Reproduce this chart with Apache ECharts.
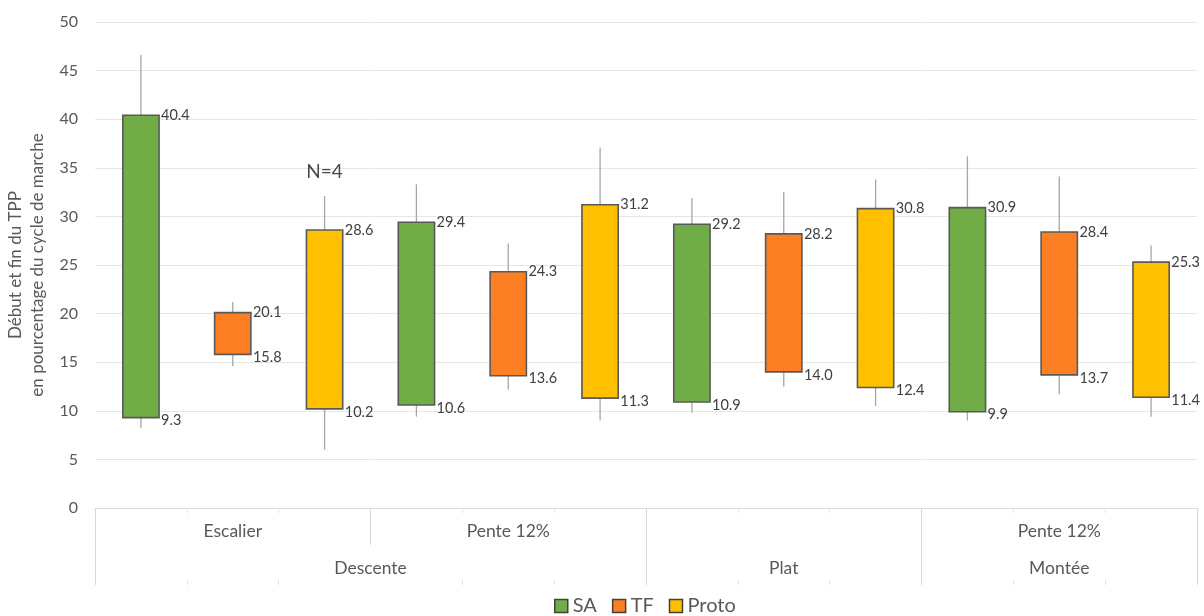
<!DOCTYPE html>
<html>
<head>
<meta charset="utf-8">
<script src="https://cdn.jsdelivr.net/npm/echarts@6/dist/echarts.min.js"></script>
<style>
  html, body { margin: 0; padding: 0; background: #fff; }
  #chart { width: 1204px; height: 616px; }
</style>
</head>
<body>
<div id="chart"></div>
<script>
// ---- Data ----
const seriesNames = ['SA', 'TF', 'Proto'];
const subLabels = ['Escalier', 'Pente 12%', '', 'Pente 12%'];
const mainLabels = ['Descente', 'Plat', 'Montée'];
const yTicks = [0, 5, 10, 15, 20, 25, 30, 35, 40, 45, 50];

const saStart = [9.3, 10.6, 10.9, 9.9];
const saEnd   = [40.4, 29.4, 29.2, 30.9];
const saLow   = [8.2, 9.4, 9.8, 9.0];
const saHigh  = [46.6, 33.3, 31.9, 36.2];

const tfStart = [15.8, 13.6, 14.0, 13.7];
const tfEnd   = [20.1, 24.3, 28.2, 28.4];
const tfLow   = [14.6, 12.2, 12.5, 11.7];
const tfHigh  = [21.2, 27.2, 32.5, 34.1];

const protoStart = [10.2, 11.3, 12.4, 11.4];
const protoEnd   = [28.6, 31.2, 30.8, 25.3];
const protoLow   = [6.0, 9.0, 10.5, 9.4];
const protoHigh  = [32.1, 37.1, 33.8, 27.0];

const annotationText = 'N=4';
const annotationSlot = 2;
const annotationValue = 34.6;

// ---- Build ----
const colors = ['#70ad47', '#fd7f23', '#ffc000'];
const slots = [];
for (let i = 0; i < 12; i++) slots.push(String(i));

function buildData(k, st, en, lo, hi) {
  return st.map((s, j) => [j * 3 + k, s, en[j], lo[j], hi[j]]);
}
const allData = [
  buildData(0, saStart, saEnd, saLow, saHigh),
  buildData(1, tfStart, tfEnd, tfLow, tfHigh),
  buildData(2, protoStart, protoEnd, protoLow, protoHigh)
];

const FONT = 'Lato, "Open Sans", sans-serif';

function makeRender(color) {
  return function (params, api) {
    const x = api.value(0);
    const s = api.value(1), e = api.value(2), lo = api.value(3), hi = api.value(4);
    const pTop = api.coord([x, e]);
    const pBot = api.coord([x, s]);
    const wTop = api.coord([x, hi]);
    const wBot = api.coord([x, lo]);
    const bw = api.size([1, 0])[0] * 0.395;
    const cx = pTop[0];
    return {
      type: 'group',
      children: [
        { type: 'line', shape: { x1: cx, y1: wTop[1], x2: cx, y2: wBot[1] },
          style: { stroke: '#a6a6a6', lineWidth: 1.3 } },
        { type: 'rect', shape: { x: cx - bw / 2, y: pTop[1], width: bw, height: pBot[1] - pTop[1] },
          style: { fill: color, stroke: '#595959', lineWidth: 1.6 } },
        { type: 'text', x: cx + bw / 2 + 2, y: pTop[1],
          style: { text: e.toFixed(1), fill: '#404040', font: '14.5px ' + FONT, align: 'left', verticalAlign: 'middle' } },
        { type: 'text', x: cx + bw / 2 + 2, y: pBot[1] + 3,
          style: { text: s.toFixed(1), fill: '#404040', font: '14.5px ' + FONT, align: 'left', verticalAlign: 'middle' } }
      ]
    };
  };
}

const series = seriesNames.map((name, k) => ({
  name: name,
  type: 'custom',
  xAxisIndex: 0,
  yAxisIndex: 0,
  renderItem: makeRender(colors[k]),
  itemStyle: { color: colors[k], borderColor: '#404040', borderWidth: 1 },
  encode: { x: 0, y: [1, 2, 3, 4] },
  data: allData[k],
  z: 3
}));

series.push({
  name: 'annotation',
  type: 'scatter',
  symbolSize: 0,
  data: [[String(annotationSlot), annotationValue]],
  label: { show: true, position: 'inside', formatter: annotationText, color: '#1a1a1a', fontSize: 19, fontFamily: FONT },
  silent: true,
  z: 4
});

const subPos = [1.5, 4.5, 7.5, 10.5];
const mainPos = [3, 7.5, 10.5];

const chart = echarts.init(document.getElementById('chart'));
chart.setOption({
  animation: false,
  backgroundColor: '#ffffff',
  grid: { left: 95, right: 7, top: 22, bottom: 108, containLabel: false, outerBoundsMode: 'none' },
  legend: {
    top: 591,
    left: 549,
    data: seriesNames.map((n, k) => ({ name: n, itemStyle: { color: colors[k], borderColor: '#404040', borderWidth: 1.5 } })),
    icon: 'rect',
    itemWidth: 13,
    itemHeight: 13,
    itemGap: 15,
    textStyle: { color: '#595959', fontSize: 20, fontFamily: FONT }
  },
  xAxis: [
    {
      type: 'category',
      data: slots,
      position: 'bottom',
      axisLine: { show: true, lineStyle: { color: '#d9d9d9', width: 1 } },
      axisTick: { show: true, length: 5, lineStyle: { color: '#e3e3e3' } },
      axisLabel: { show: false },
      splitLine: { show: false }
    },
    {
      type: 'value', min: 0, max: 12, position: 'bottom', offset: 0,
      axisLine: { show: false },
      axisTick: { show: true, customValues: [0, 3, 6, 9, 12], length: 37, lineStyle: { color: '#d9d9d9' } },
      axisLabel: {
        show: true, customValues: subPos, margin: 14,
        formatter: v => subLabels[subPos.indexOf(v)] || '',
        color: '#595959', fontSize: 17.5, fontFamily: FONT
      },
      splitLine: { show: false }
    },
    {
      type: 'value', min: 0, max: 12, position: 'bottom', offset: 37,
      axisLine: { show: false },
      axisTick: { show: true, customValues: [0, 6, 9, 12], length: 40, lineStyle: { color: '#d9d9d9' } },
      axisLabel: {
        show: true, customValues: mainPos, margin: 14,
        formatter: v => mainLabels[mainPos.indexOf(v)] || '',
        color: '#595959', fontSize: 17.5, fontFamily: FONT
      },
      splitLine: { show: false }
    },
    {
      type: 'value', min: 0, max: 12, position: 'bottom', offset: 72,
      axisLine: { show: false },
      axisTick: { show: true, customValues: [1, 2, 4, 5, 7, 8, 10, 11], length: 5, lineStyle: { color: '#e3e3e3' } },
      axisLabel: { show: false },
      splitLine: { show: false }
    }
  ],
  yAxis: {
    type: 'value', min: 0, max: 50, interval: 5,
    axisLine: { show: false },
    axisTick: { show: false },
    axisLabel: { color: '#595959', fontSize: 16, fontFamily: FONT, margin: 17,
      formatter: v => (yTicks.indexOf(v) >= 0 ? String(v) : '') },
    splitLine: { lineStyle: { color: '#e6e6e6', width: 1 } },
    name: 'Début et fin du TPP\nen pourcentage du cycle de marche',
    nameLocation: 'middle',
    nameRotate: 90,
    nameGap: 43,
    nameTextStyle: { color: '#595959', fontSize: 17, fontFamily: FONT, lineHeight: 22, align: 'center' }
  },
  series: series
});
</script>
</body>
</html>
